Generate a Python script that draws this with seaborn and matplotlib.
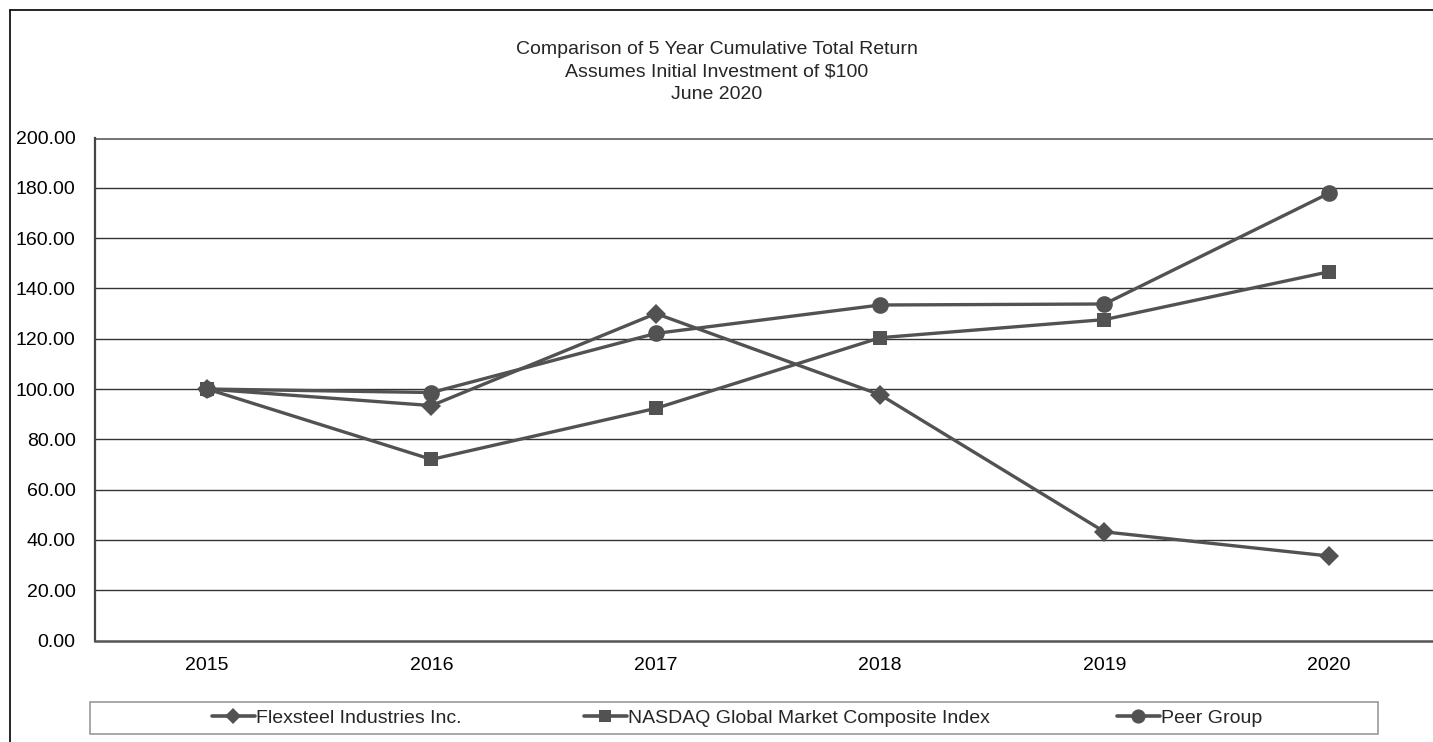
import pandas as pd
import numpy as np
import matplotlib
matplotlib.use("Agg")
import matplotlib.pyplot as plt
import seaborn as sns
from matplotlib.lines import Line2D

years = [2015, 2016, 2017, 2018, 2019, 2020]
flexsteel = [100.00, 93.4, 130.0, 97.7, 43.2, 33.6]
nasdaq = [100.00, 72.0, 92.3, 120.4, 127.6, 146.6]
peer = [100.00, 98.6, 122.1, 133.4, 133.8, 177.8]

series_names = ["Flexsteel Industries Inc.", "NASDAQ Global Market Composite Index", "Peer Group"]
series_markers = ["D", "s", "o"]
title_lines = ["Comparison of 5 Year Cumulative Total Return",
               "Assumes Initial Investment of $100",
               "June 2020"]

df = pd.DataFrame({
    "Year": years * 3,
    "Return": flexsteel + nasdaq + peer,
    "Series": [series_names[0]] * 6 + [series_names[1]] * 6 + [series_names[2]] * 6,
})

sns.set_style("white")
plt.rcParams["font.family"] = ["Liberation Sans", "DejaVu Sans"]
LINE_COL = "#525252"

fig = plt.figure(figsize=(14.33, 7.42), dpi=100)
W, H = 1433, 742
ax = fig.add_axes([95 / W, 1 - 640.5 / H, (1441 - 95) / W, (640.5 - 137.5) / H])

sns.lineplot(data=df, x="Year", y="Return", hue="Series", style="Series",
             palette=[LINE_COL] * 3, markers=dict(zip(series_names, series_markers)),
             dashes=False, linewidth=2.4, markersize=11, markeredgewidth=0,
             legend=False, ax=ax)

# marker sizes differ a little per series
for line, ms in zip(ax.get_lines(), [10, 10, 12]):
    line.set_markersize(ms)

ax.set_xlim(2014.5, 2020.5)
ax.set_ylim(0, 200)
ax.set_xticks(years)
ax.set_xticklabels([str(y) for y in years])
ax.set_yticks(np.arange(0, 201, 20))
ax.set_yticklabels([f"{v:.2f}" for v in np.arange(0, 201, 20)])
ax.set_xlabel("")
ax.set_ylabel("")
ax.tick_params(axis="both", labelsize=14, colors="black")
ax.tick_params(axis="y", direction="out", length=5, width=1, color="#555555", pad=9)
ax.tick_params(axis="x", direction="in", length=4, width=1, color="#555555", pad=12)

ax.grid(False)
for v in np.arange(20, 201, 20):
    ax.axhline(v, color="#333333", linewidth=1.0, zorder=0)
ax.axhline(200, color="#777777", linewidth=2.2, zorder=0)

for side in ["top", "right"]:
    ax.spines[side].set_visible(False)
ax.spines["left"].set_color("#444444")
ax.spines["left"].set_linestyle((0, (2, 1)))
ax.spines["left"].set_linewidth(1.6)
ax.spines["bottom"].set_color("#555555")
ax.spines["bottom"].set_linestyle((0, (2, 1)))
ax.spines["bottom"].set_linewidth(1.8)

# outer chart frame
fig.add_artist(Line2D([10 / W, 10 / W], [0, 1 - 10 / H], color="black", linewidth=1.2))
fig.add_artist(Line2D([10 / W, 1], [1 - 10 / H, 1 - 10 / H], color="black", linewidth=1.2))

fig.text(0.5, 1 - 72 / H, "\n".join(title_lines), ha="center", va="center",
         fontsize=14, linespacing=1.4)

# legend box
fig.add_artist(plt.Rectangle((90 / W, 1 - 734 / H), (1378 - 90) / W, 32 / H,
                             fill=False, edgecolor="#999999", linewidth=1.2))
leg_x = [212, 584, 1117]
for line, name, x in zip(ax.get_lines(), series_names, leg_x):
    h = Line2D([], [], color=LINE_COL, linewidth=2.6, marker=line.get_marker(),
               markersize=line.get_markersize() * 0.85, markeredgewidth=0)
    fig.legend([h], [name], loc="center left", bbox_to_anchor=(x / W, 1 - 718 / H),
               frameon=False, fontsize=14, handlelength=2.2, handletextpad=0.05,
               borderpad=0, borderaxespad=0)

fig.savefig("out.png", dpi=100)
